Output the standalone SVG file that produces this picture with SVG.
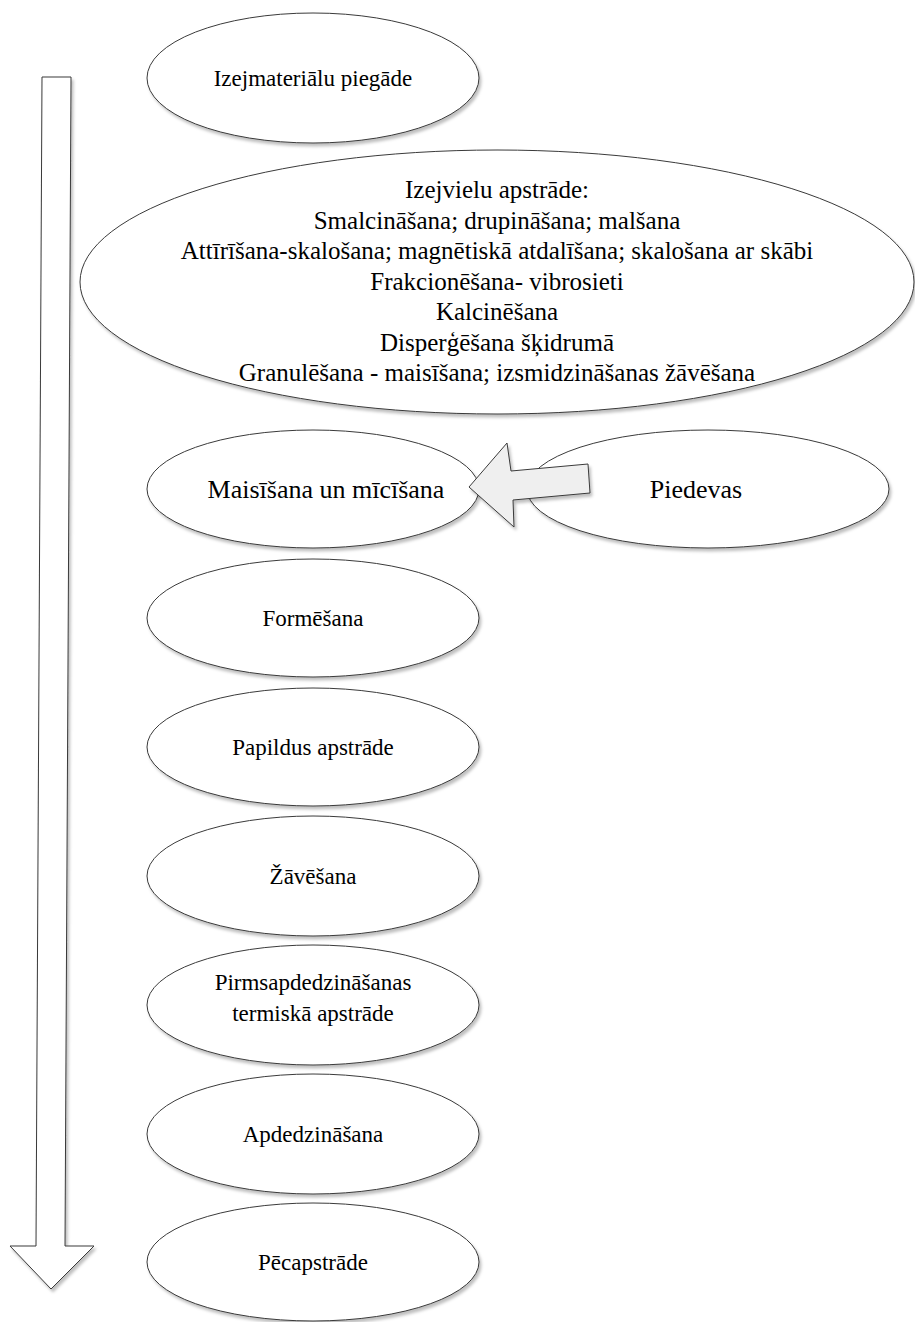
<svg xmlns="http://www.w3.org/2000/svg" width="915" height="1322" viewBox="0 0 915 1322">
<defs>
<filter id="sh" x="-10%" y="-10%" width="120%" height="130%">
<feDropShadow dx="2" dy="3" stdDeviation="1.5" flood-color="#000" flood-opacity="0.25"/>
</filter>
<style>
.n{fill:#fff;stroke:#3a3a3a;stroke-width:1;filter:url(#sh)}
.t{font-family:"Liberation Serif","Times New Roman",serif;font-size:23px;fill:#000;text-anchor:middle}
.b{font-size:25px}
.m{font-size:26px}
.v{fill:#fff;stroke:#3a3a3a;stroke-width:1;filter:url(#sh)}
.a{fill:#efefef;stroke:#3a3a3a;stroke-width:1;filter:url(#sh)}
</style>
</defs>
<rect width="915" height="1322" fill="#fff"/>
<g id="connectors">
<polygon class="v" points="42,77 71,77 65,1246 94,1246 51,1289 10,1246 36,1246"/>
</g>
<g id="n1"><ellipse class="n" cx="313" cy="78" rx="166" ry="65"/><text class="t" x="313" y="86">Izejmateriālu piegāde</text></g>
<g id="n2"><ellipse class="n" cx="497" cy="282" rx="417" ry="132"/>
<text class="t b" x="497" y="198">Izejvielu apstrāde:</text>
<text class="t b" x="497" y="228.5">Smalcināšana; drupināšana; malšana</text>
<text class="t b" x="497" y="259">Attīrīšana-skalošana; magnētiskā atdalīšana; skalošana ar skābi</text>
<text class="t b" x="497" y="289.5">Frakcionēšana- vibrosieti</text>
<text class="t b" x="497" y="320">Kalcinēšana</text>
<text class="t b" x="497" y="350.5">Disperģēšana šķidrumā</text>
<text class="t b" x="497" y="381">Granulēšana - maisīšana; izsmidzināšanas žāvēšana</text>
</g>
<g id="n3"><ellipse class="n" cx="313" cy="489" rx="166" ry="59"/><text class="t m" x="326" y="498">Maisīšana un mīcīšana</text></g>
<g id="n4"><ellipse class="n" cx="708" cy="489" rx="181" ry="59"/><text class="t m" x="696" y="498">Piedevas</text></g>
<g id="arrow2"><polygon class="a" points="469,487 507,443 511,471 588,464 590,493 513,500 514,527"/></g>
<g id="n5"><ellipse class="n" cx="313" cy="618" rx="166" ry="59"/><text class="t" x="313" y="626">Formēšana</text></g>
<g id="n6"><ellipse class="n" cx="313" cy="747" rx="166" ry="59"/><text class="t" x="313" y="755">Papildus apstrāde</text></g>
<g id="n7"><ellipse class="n" cx="313" cy="876" rx="166" ry="60"/><text class="t" x="313" y="884">Žāvēšana</text></g>
<g id="n8"><ellipse class="n" cx="313" cy="1005" rx="166" ry="60"/><text class="t" x="313" y="990">Pirmsapdedzināšanas</text><text class="t" x="313" y="1021">termiskā apstrāde</text></g>
<g id="n9"><ellipse class="n" cx="313" cy="1134" rx="166" ry="60"/><text class="t" x="313" y="1142">Apdedzināšana</text></g>
<g id="n10"><ellipse class="n" cx="313" cy="1262" rx="166" ry="59"/><text class="t" x="313" y="1270">Pēcapstrāde</text></g>
</svg>
